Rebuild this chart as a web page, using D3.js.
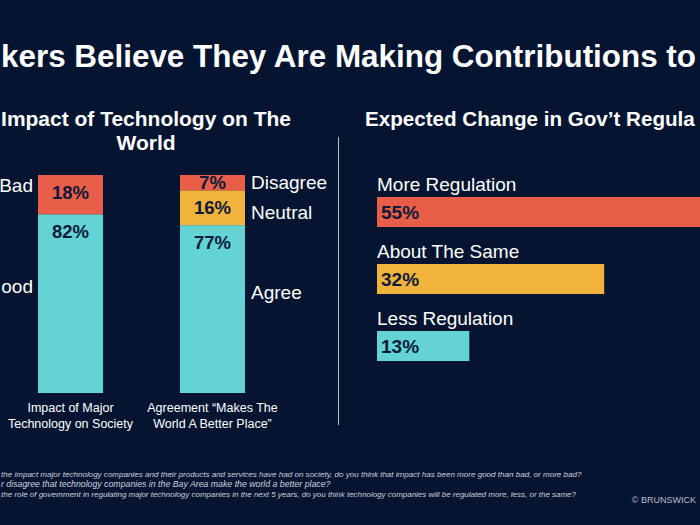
<!DOCTYPE html>
<html><head><meta charset="utf-8">
<script src="https://cdn.jsdelivr.net/npm/d3@7"></script>
<style>html,body{margin:0;padding:0;background:#051431;overflow:hidden}</style>
</head><body><svg id="chart" width="700" height="525"></svg>
<script>
// ---------- data (text as visible in the cropped reference) ----------
const titleText = "kers Believe They Are Making Contributions to";
const leftSubtitle = ["Impact of Technology on The", "World"];
const rightSubtitle = "Expected Change in Gov’t Regula";
const stackedBars = ["Impact of Major Technology on Society", "Agreement “Makes The World A Better Place”"];
const stackedBarLines = [["Impact of Major", "Technology on Society"], ["Agreement “Makes The", "World A Better Place”"]];
const impactCategories = ["ood", "Bad"];
const impactValues = [82, 18];
const agreeCategories = ["Agree", "Neutral", "Disagree"];
const agreeValues = [77, 16, 7];
const regCategories = ["More Regulation", "About The Same", "Less Regulation"];
const regValues = [55, 32, 13];
const footnotes = [
  "the impact major technology companies and their products and services have had on society, do you think that impact has been more good than bad, or more bad?",
  "r disagree that technology companies in the Bay Area make the world a better place?",
  "the role of government in regulating major technology companies in the next 5 years, do you think technology companies will be regulated more, less, or the same?"
];
const copyright = "© BRUNSWICK";

// ---------- style ----------
const BG = "#051431", CORAL = "#e85e48", YELLOW = "#f2b33c", TEAL = "#63d4d3", DARK = "#0d1a3a", WHITE = "#ffffff", GREY = "#cdd1da";
const colorOf = {ood: TEAL, Bad: CORAL, Agree: TEAL, Neutral: YELLOW, Disagree: CORAL,
  "More Regulation": CORAL, "About The Same": YELLOW, "Less Regulation": TEAL};
const FONT = "Liberation Sans, Arial, Helvetica, sans-serif";

const svg = d3.select("#chart");
svg.append("rect").attr("width", 700).attr("height", 525).attr("fill", BG);

// shrink font size so the text is no wider than target
function fitSize(sel, target, base) {
  const w = sel.node().getComputedTextLength();
  if (w > target) sel.attr("font-size", base * target / w);
  return sel;
}
// stretch/squeeze to target width (used when the text is not wider than the target)
function fitLen(sel, target) {
  const w = sel.node().getComputedTextLength();
  if (w <= target) sel.attr("textLength", target).attr("lengthAdjust", "spacingAndGlyphs");
  else sel.attr("font-size", parseFloat(sel.attr("font-size")) * target / w);
  return sel;
}

// ---------- title ----------
fitLen(svg.append("text").attr("x", 1).attr("y", 67)
  .attr("font-family", FONT).attr("font-weight", "bold").attr("font-size", 31)
  .attr("fill", WHITE).text(titleText), 695);

// ---------- subtitles ----------
leftSubtitle.forEach((s, i) => {
  const t = svg.append("text").attr("x", 146).attr("y", 126 + i * 24).attr("text-anchor", "middle")
    .attr("font-family", FONT).attr("font-weight", "bold").attr("font-size", 21).attr("fill", WHITE).text(s);
  fitSize(t, i === 0 ? 290 : 60, 21);
});
fitSize(svg.append("text").attr("x", 365).attr("y", 126)
  .attr("font-family", FONT).attr("font-weight", "bold").attr("font-size", 21).attr("fill", WHITE)
  .text(rightSubtitle), 330, 21);

// divider
svg.append("line").attr("x1", 338.5).attr("x2", 338.5).attr("y1", 137).attr("y2", 425)
  .attr("stroke", "#b9bec8").attr("stroke-width", 1);

// ---------- left stacked bars ----------
const xBand = d3.scaleBand().domain(stackedBars).range([38, 245]).paddingInner(0.542).paddingOuter(0);
const yLin = d3.scaleLinear().domain([0, 100]).range([393, 175]);
const groups = [
  {bar: stackedBars[0], cats: impactCategories, vals: impactValues, side: "left"},
  {bar: stackedBars[1], cats: agreeCategories, vals: agreeValues, side: "right"}
];
groups.forEach((g, gi) => {
  let cum = 0;
  const segs = g.cats.map((c, i) => { const s = {cat: c, v: g.vals[i], y0: cum, y1: cum + g.vals[i], last: i === g.cats.length - 1}; cum += g.vals[i]; return s; });
  const x0 = xBand(g.bar), bw = xBand.bandwidth();
  const gg = svg.append("g");
  gg.selectAll("rect").data(segs).join("rect")
    .attr("x", x0).attr("width", bw)
    .attr("y", d => yLin(d.y1)).attr("height", d => yLin(d.y0) - yLin(d.y1))
    .attr("fill", d => colorOf[d.cat]);
  gg.selectAll("text.val").data(segs).join("text").attr("class", "val")
    .attr("x", x0 + bw / 2)
    .attr("y", d => { const top = yLin(d.y1), h = yLin(d.y0) - top; return Math.min(top + 17, top + h / 2); })
    .attr("dy", "0.36em").attr("text-anchor", "middle")
    .attr("font-family", FONT).attr("font-weight", "bold").attr("font-size", 18.5).attr("fill", DARK)
    .text(d => d.v + "%");
  gg.selectAll("text.cat").data(segs).join("text").attr("class", "cat")
    .attr("x", g.side === "left" ? x0 - 5 : x0 + bw + 6)
    .attr("text-anchor", g.side === "left" ? "end" : "start")
    .attr("y", d => {
      const top = yLin(d.y1), h = yLin(d.y0) - top;
      if (d.last) return top + Math.min(h / 2, 10);
      if (h >= 60) return top + 0.4 * h;
      return top + h / 2 + 4;
    })
    .attr("dy", "0.36em")
    .attr("font-family", FONT).attr("font-size", 19).attr("fill", WHITE)
    .text(d => d.cat);
  stackedBarLines[gi].forEach((line, li) => {
    svg.append("text").attr("text-anchor", "middle").attr("x", x0 + bw / 2).attr("y", 412 + li * 16)
      .attr("font-family", FONT).attr("font-size", 12.5).attr("fill", WHITE).text(line);
  });
});

// ---------- right horizontal bars ----------
const xReg = d3.scaleLinear().domain([0, 100]).range([377, 377 + 710]);
const yReg = d3.scaleBand().domain(regCategories).range([197, 361]).paddingInner(0.552).paddingOuter(0);
const regData = regCategories.map((c, i) => ({cat: c, v: regValues[i]}));
const rg = svg.append("g");
rg.selectAll("rect").data(regData).join("rect")
  .attr("x", xReg(0)).attr("y", d => yReg(d.cat))
  .attr("width", d => Math.min(xReg(d.v), 700) - xReg(0)).attr("height", yReg.bandwidth())
  .attr("fill", d => colorOf[d.cat]);
rg.selectAll("text.val").data(regData).join("text").attr("class", "val")
  .attr("x", xReg(0) + 4).attr("y", d => yReg(d.cat) + yReg.bandwidth() / 2).attr("dy", "0.36em")
  .attr("font-family", FONT).attr("font-weight", "bold").attr("font-size", 19).attr("fill", DARK)
  .text(d => d.v + "%");
rg.selectAll("text.cat").data(regData).join("text").attr("class", "cat")
  .attr("x", xReg(0)).attr("y", d => yReg(d.cat) - 6)
  .attr("font-family", FONT).attr("font-size", 19).attr("fill", WHITE)
  .text(d => d.cat);

// ---------- footnotes ----------
const footWidths = [581, 330, 576];
footnotes.forEach((f, i) => {
  fitSize(svg.append("text").attr("x", 1).attr("y", 477 + i * 10)
    .attr("font-family", FONT).attr("font-style", "italic").attr("font-size", 9.5).attr("fill", GREY)
    .text(f), footWidths[i], 9.5);
});
svg.append("text").attr("x", 696).attr("y", 503).attr("text-anchor", "end")
  .attr("font-family", FONT).attr("font-size", 9).attr("fill", "#b8bdc8").text(copyright);
</script>
</body></html>
